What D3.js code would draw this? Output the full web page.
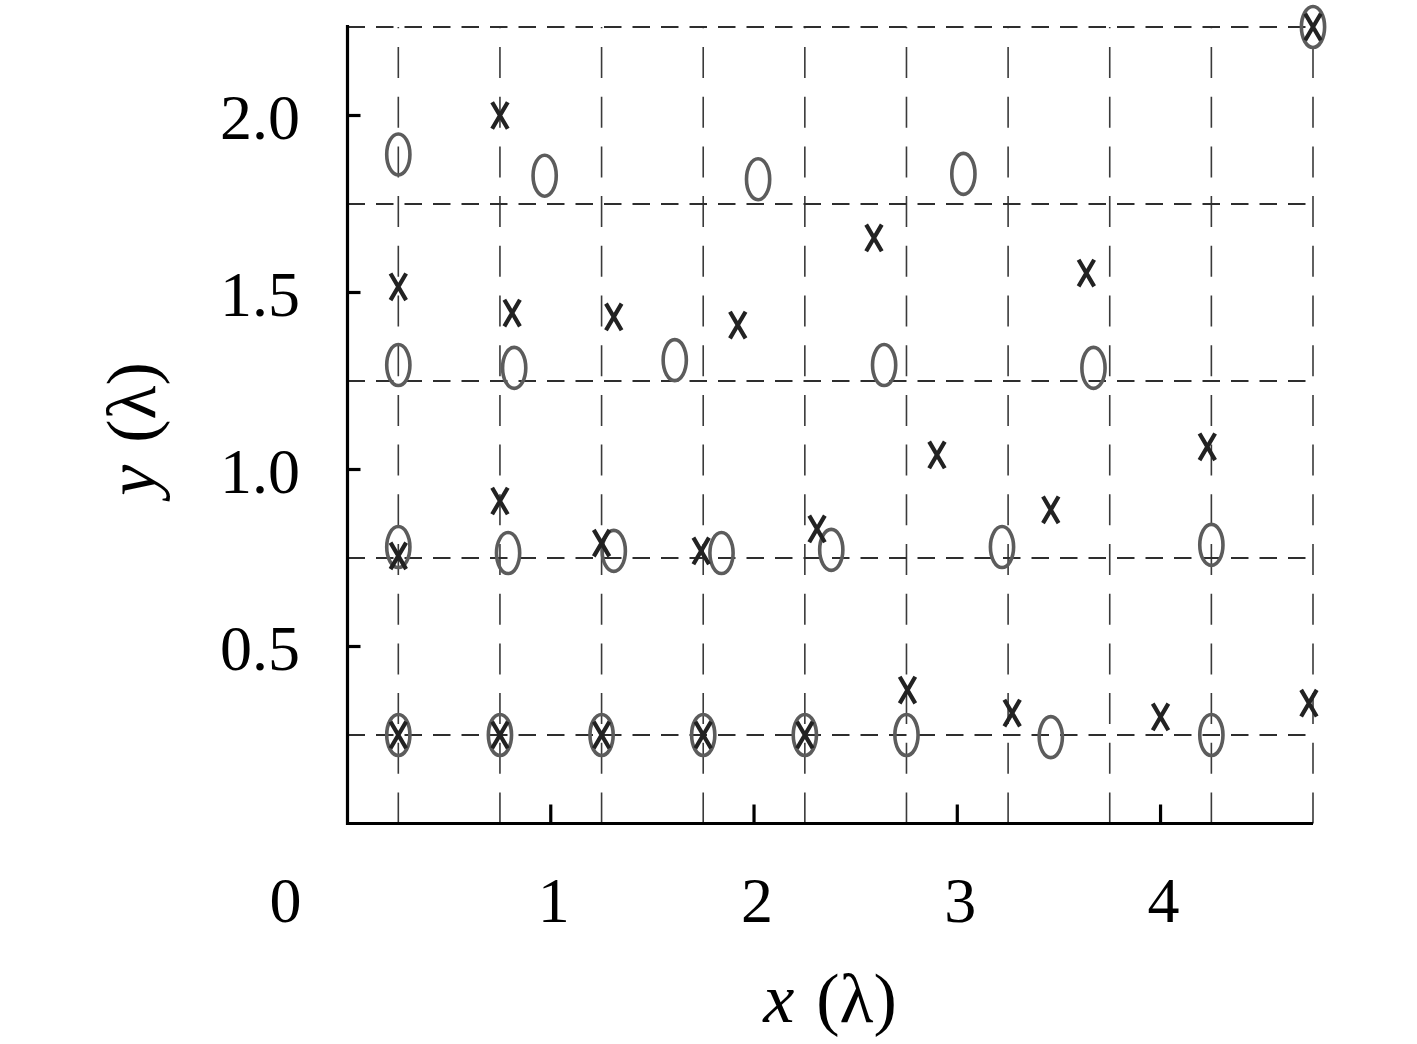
<!DOCTYPE html>
<html>
<head>
<meta charset="utf-8">
<script src="https://cdn.jsdelivr.net/npm/d3@7"></script>
<style>
  html, body { margin: 0; padding: 0; background: #fff; }
  svg { display: block; }
  text { font-family: "Liberation Serif", "DejaVu Serif", serif; fill: #000; }
</style>
</head>
<body>
<script>
// ---- data ----
const circleX = [0.25, 0.97, 2.02, 3.03, 0.25, 0.82, 1.61, 2.64, 3.67, 0.25, 0.79, 1.31, 1.84, 2.38, 3.22, 4.25, 0.25, 0.75, 1.25, 1.75, 2.25, 2.75, 3.46, 4.25, 4.75];
const circleY = [1.89, 1.83, 1.82, 1.835, 1.295, 1.287, 1.309, 1.295, 1.287, 0.781, 0.764, 0.77, 0.764, 0.773, 0.781, 0.787, 0.25, 0.25, 0.25, 0.25, 0.25, 0.25, 0.244, 0.25, 2.25];
const crossX = [0.75, 0.25, 0.81, 1.31, 1.92, 2.59, 3.635, 0.75, 1.25, 1.74, 0.25, 2.31, 2.90, 3.46, 4.23, 2.755, 3.27, 4.0, 4.73, 0.25, 0.75, 1.25, 1.75, 2.25, 4.75];
const crossY = [2.0, 1.516, 1.442, 1.431, 1.408, 1.654, 1.555, 0.911, 0.792, 0.77, 0.756, 0.832, 1.041, 0.886, 1.064, 0.377, 0.312, 0.301, 0.34, 0.25, 0.25, 0.25, 0.25, 0.25, 2.25];
const xGrid = [0.25, 0.75, 1.25, 1.75, 2.25, 2.75, 3.25, 3.75, 4.25, 4.75];
const yGrid = [0.25, 0.75, 1.25, 1.75, 2.25];
const xTicks = [1, 2, 3, 4];
const yTicks = [0.5, 1.0, 1.5, 2.0];
const xTickLabels = ["1", "2", "3", "4"];
const yTickLabels = ["0.5", "1.0", "1.5", "2.0"];
const originLabel = "0";
const xAxisLabel = ["x", "(λ)"];
const yAxisLabel = ["y", "(λ)"];

// ---- layout ----
const W = 1417, H = 1044;
const mLeft = 347.5, mRight = 1313, mTop = 27, mBottom = 823.5;

const svg = d3.select("body").append("svg").attr("width", W).attr("height", H);
svg.append("rect").attr("width", W).attr("height", H).attr("fill", "#fff");

const x = d3.scaleLinear().domain([0, 4.75]).range([mLeft, mRight]);
const y = d3.scaleLinear().domain([0, 2.25]).range([mBottom, mTop]);

// grid lines
const grid = svg.append("g");
grid.selectAll("line.v").data(xGrid).join("line").attr("class", "v")
  .attr("x1", d => x(d)).attr("x2", d => x(d))
  .attr("y1", y(0)).attr("y2", y(2.25))
  .attr("stroke", "#3a3a3a").attr("stroke-width", 1.6)
  .attr("stroke-dasharray", "31,18.7");
grid.selectAll("line.h").data(yGrid).join("line").attr("class", "h")
  .attr("x1", x(0)).attr("x2", x(4.75))
  .attr("y1", d => y(d)).attr("y2", d => y(d))
  .attr("stroke", "#2e2e2e").attr("stroke-width", 2)
  .attr("stroke-dasharray", "17.5,11");

// axes lines
svg.append("line").attr("x1", x(0)).attr("x2", x(0)).attr("y1", y(2.25) - 2).attr("y2", y(0) + 1.5)
  .attr("stroke", "#000").attr("stroke-width", 3.2);
svg.append("line").attr("x1", x(0) - 1.5).attr("x2", x(4.75)).attr("y1", y(0)).attr("y2", y(0))
  .attr("stroke", "#000").attr("stroke-width", 3.2);

// ticks (inward)
svg.selectAll("line.xt").data(xTicks).join("line").attr("class", "xt")
  .attr("x1", d => x(d)).attr("x2", d => x(d))
  .attr("y1", y(0)).attr("y2", y(0) - 19)
  .attr("stroke", "#000").attr("stroke-width", 3.2);
svg.selectAll("line.yt").data(yTicks).join("line").attr("class", "yt")
  .attr("x1", x(0)).attr("x2", x(0) + 13)
  .attr("y1", d => y(d)).attr("y2", d => y(d))
  .attr("stroke", "#000").attr("stroke-width", 3.2);

// tick labels
const fs = 64;
svg.selectAll("text.xl").data(xTicks).join("text").attr("class", "xl")
  .attr("x", d => x(d) + 3).attr("y", 922)
  .attr("text-anchor", "middle").attr("font-size", fs)
  .text((d, i) => xTickLabels[i]);
svg.append("text").attr("x", x(0) - 62).attr("y", 922)
  .attr("text-anchor", "middle").attr("font-size", fs).text(originLabel);
svg.selectAll("text.yl").data(yTicks).join("text").attr("class", "yl")
  .attr("x", 300).attr("y", d => y(d) + 23)
  .attr("text-anchor", "end").attr("font-size", fs)
  .text((d, i) => yTickLabels[i]);

// axis labels
const xl = svg.append("text").attr("x", 830).attr("y", 1022)
  .attr("text-anchor", "middle").attr("font-size", 70);
xl.append("tspan").attr("font-style", "italic").text(xAxisLabel[0]);
xl.append("tspan").attr("dx", 22).text(xAxisLabel[1]);

const yl = svg.append("text").attr("transform", `translate(155,429) rotate(-90)`)
  .attr("text-anchor", "middle").attr("font-size", 70);
yl.append("tspan").attr("font-style", "italic").text(yAxisLabel[0]);
yl.append("tspan").attr("dx", 22).text(yAxisLabel[1]);

// markers: circles (ellipses)
const circles = circleX.map((v, i) => [v, circleY[i]]);
svg.append("g").selectAll("ellipse").data(circles).join("ellipse")
  .attr("cx", d => x(d[0])).attr("cy", d => y(d[1]))
  .attr("rx", 11.6).attr("ry", 20.5)
  .attr("fill", "none").attr("stroke", "#5c5c5c").attr("stroke-width", 3.6);

// markers: crosses
const crosses = crossX.map((v, i) => [v, crossY[i]]);
const hx = 7.8, hy = 13.3;
svg.append("g").selectAll("path").data(crosses).join("path")
  .attr("d", d => {
    const cx = x(d[0]), cy = y(d[1]);
    return `M${cx - hx},${cy - hy}L${cx + hx},${cy + hy}M${cx + hx},${cy - hy}L${cx - hx},${cy + hy}`;
  })
  .attr("fill", "none").attr("stroke", "#222").attr("stroke-width", 4.2);
</script>
</body>
</html>
